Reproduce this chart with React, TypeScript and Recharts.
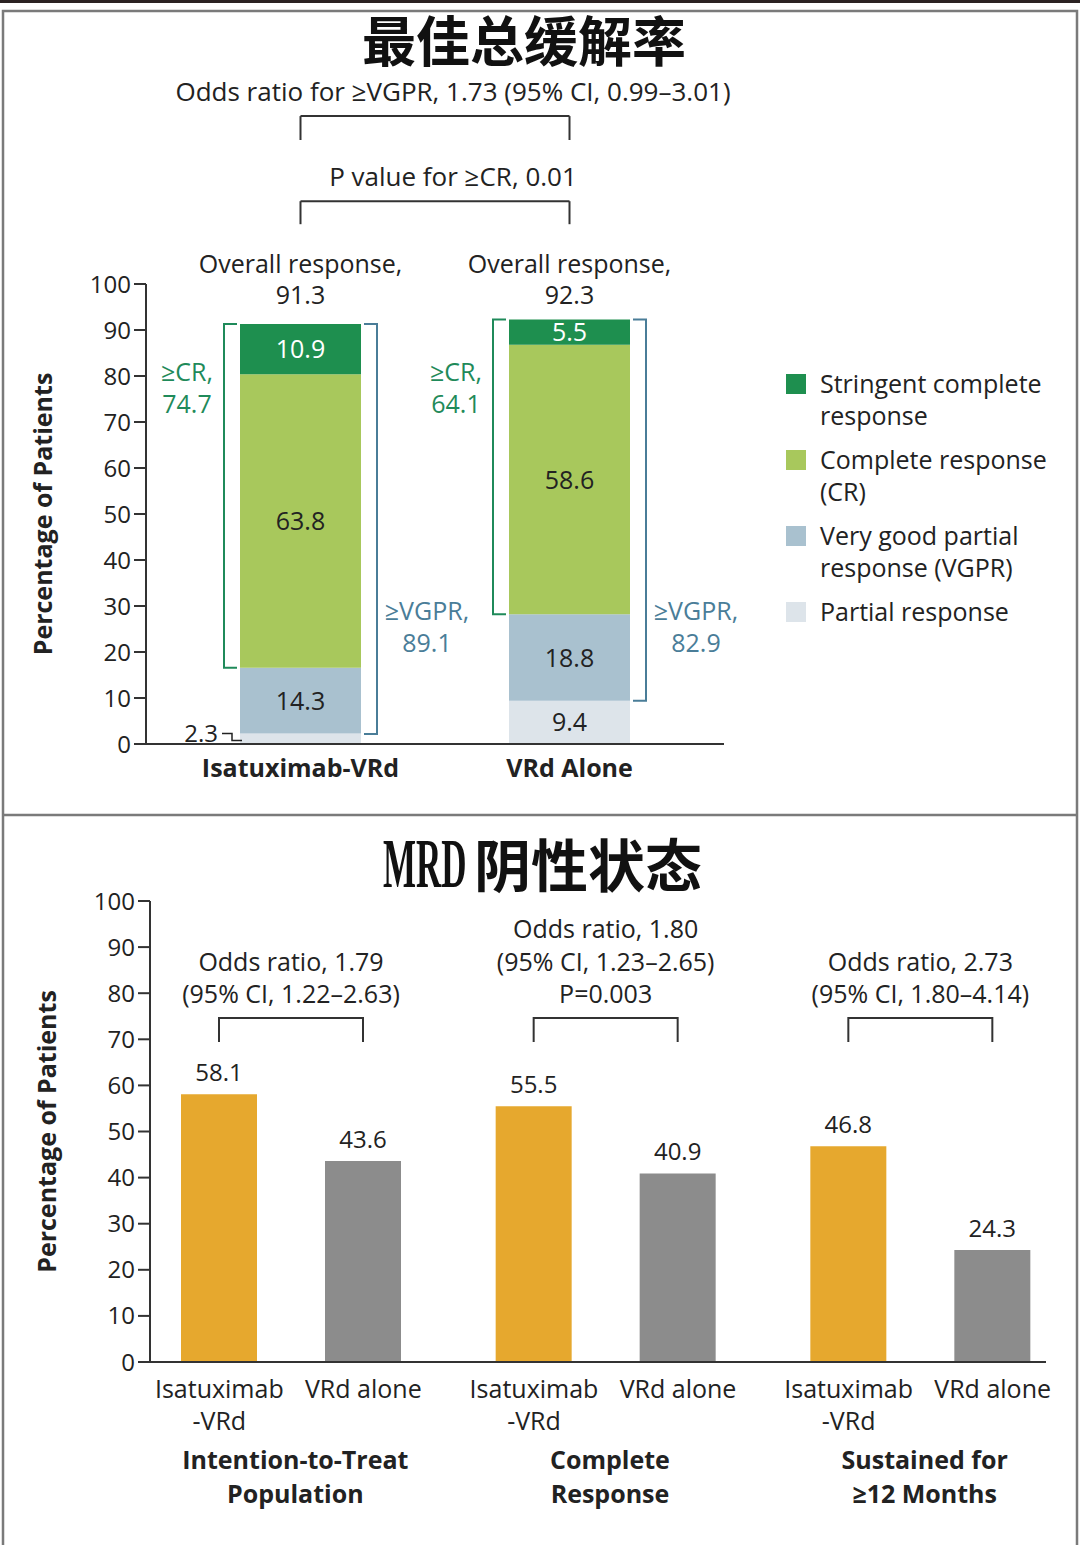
import { BarChart, Bar, XAxis, YAxis, LabelList, Legend, ReferenceLine } from 'recharts'

// best overall response (top panel)
const responseGroups = ['Isatuximab-VRd', 'VRd Alone']
const partialResponse = [2.3, 9.4]
const veryGoodPartial = [14.3, 18.8]
const completeResponse = [63.8, 58.6]
const stringentComplete = [10.9, 5.5]
const overallResponse = [91.3, 92.3]
const atLeastCR = [74.7, 64.1]
const atLeastVGPR = [89.1, 82.9]
const legendOrder = ['scr', 'cr', 'vgpr', 'pr']

// MRD-negative status (bottom panel)
const mrdGroups = [
  ['Intention-to-Treat', 'Population'],
  ['Complete', 'Response'],
  ['Sustained for', '≥12 Months'],
]
const mrdIsatuximab = [58.1, 55.5, 46.8]
const mrdVrdAlone = [43.6, 40.9, 24.3]
const mrdOdds = [
  ['Odds ratio, 1.79', '(95% CI, 1.22–2.63)'],
  ['Odds ratio, 1.80', '(95% CI, 1.23–2.65)', 'P=0.003'],
  ['Odds ratio, 2.73', '(95% CI, 1.80–4.14)'],
]
const armLabels = [['Isatuximab', '-VRd'], ['VRd alone']]
const percentTicks = [0, 10, 20, 30, 40, 50, 60, 70, 80, 90, 100]

const FONT = '"Open Sans", "DejaVu Sans", sans-serif'
const CJK = '"Noto Sans CJK SC", sans-serif'
const INK = '#222'
const AXIS = '#333'
const GREEN = '#1f8a5a'
const BLUE = '#4a7d98'
const colors = {
  scr: '#1e8f4f',
  cr: '#a8c85c',
  vgpr: '#a9c1cf',
  pr: '#dde4ea',
  isa: '#e6a82e',
  vrd: '#8c8c8c',
}
const MRD_BAR = 76
const MRD_GAP = 68

const responseData = responseGroups.map((name, i) => ({
  name,
  pr: partialResponse[i],
  vgpr: veryGoodPartial[i],
  cr: completeResponse[i],
  scr: stringentComplete[i],
}))

const mrdGroupNames = mrdGroups.map((l) => l.join(' '))
const mrdData = mrdGroupNames.map((g, i) => ({ g, isa: mrdIsatuximab[i], vrd: mrdVrdAlone[i] }))

function box(props: any) {
  const vb = props.viewBox && props.viewBox.width !== undefined ? props.viewBox : props
  return { x: +vb.x, y: +vb.y, width: +vb.width, height: +vb.height }
}

function SegmentLabel(props: any) {
  const { x, y, width, height } = box(props)
  const v = props.values[props.index]
  if (v == null) return null
  if (height < 20) {
    return (
      <g>
        <text x={x - 22} y={y + height - 2} textAnchor="end" fontSize={24} fontFamily={FONT} fill={INK}>
          {v}
        </text>
        <path d={`M${x - 18},${y} H${x - 8} V${y + 7} H${x + 2}`} fill="none" stroke={INK} strokeWidth={1.5} />
      </g>
    )
  }
  return (
    <text x={x + width / 2} y={y + height / 2 + 9} textAnchor="middle" fontSize={25} fontFamily={FONT} fill={props.color}>
      {v}
    </text>
  )
}

function ResponseAnnotations(props: any) {
  const { x, y, width, height } = box(props)
  const i = props.index
  const total = overallResponse[i]
  const ppu = height / stringentComplete[i]
  const yAt = (v: number) => y + (total - v) * ppu
  const crBottom = yAt(total - atLeastCR[i])
  const vgprBottom = yAt(total - atLeastVGPR[i])
  const right = x + width
  const cx = x + width / 2
  return (
    <g fontFamily={FONT} fontSize={25}>
      <text x={cx} y={yAt(100) - 11} textAnchor="middle" fill={INK}>Overall response,</text>
      <text x={cx} y={yAt(100) + 20} textAnchor="middle" fill={INK}>{total}</text>
      <path d={`M${x - 3},${y} H${x - 16} V${crBottom} H${x - 3}`} stroke={GREEN} strokeWidth={2} fill="none" />
      <path d={`M${right + 3},${y} H${right + 16} V${vgprBottom} H${right + 3}`} stroke={BLUE} strokeWidth={2} fill="none" />
      <text x={x - 53} y={yAt(79)} textAnchor="middle" fill={GREEN}>≥CR,</text>
      <text x={x - 53} y={yAt(79) + 32} textAnchor="middle" fill={GREEN}>{atLeastCR[i]}</text>
      <text x={right + 66} y={yAt(27)} textAnchor="middle" fill={BLUE}>≥VGPR,</text>
      <text x={right + 66} y={yAt(27) + 32} textAnchor="middle" fill={BLUE}>{atLeastVGPR[i]}</text>
    </g>
  )
}

function ResponseTick(props: any) {
  const { x, y, payload } = props
  return (
    <text x={x} y={y + 33} textAnchor="middle" fontFamily={FONT} fontWeight={700} fontSize={25} fill={INK}>
      {payload.value}
    </text>
  )
}

function yLabel(props: any) {
  const vb = props.viewBox
  const x = vb.x - 34
  const y = vb.y + vb.height / 2
  return (
    <text x={x} y={y} transform={`rotate(-90, ${x}, ${y})`} textAnchor="middle" fontFamily={FONT} fontWeight={700} fontSize={25} fill={INK}>
      Percentage of Patients
    </text>
  )
}

function LegendBox(props: any) {
  const items = [...(props.payload || [])].sort(
    (a: any, b: any) => legendOrder.indexOf(a.dataKey) - legendOrder.indexOf(b.dataKey)
  )
  return (
    <div style={{ fontFamily: FONT, fontSize: 25, lineHeight: '32px', color: INK }}>
      {items.map((it: any) => (
        <div key={it.value} style={{ display: 'flex', marginBottom: 12 }}>
          <div style={{ width: 20, height: 20, background: it.color, marginTop: 7, marginRight: 14, flex: 'none' }} />
          <div style={{ whiteSpace: 'pre-line' }}>{it.value}</div>
        </div>
      ))}
    </div>
  )
}

const headerLevels = [
  [131.3, 136.5],
  [113, 118],
]

function ResponseChart() {
  const [g0, g1] = responseGroups
  return (
    <BarChart width={1080} height={815} data={responseData} margin={{ top: 284, right: 356, bottom: 31, left: 86 }} barSize={121}>
      <XAxis
        dataKey="name"
        padding={{ left: 20, right: 20 }}
        height={40}
        axisLine={{ stroke: AXIS, strokeWidth: 2 }}
        tickLine={false}
        tickSize={0}
        tickMargin={0}
        interval={0}
        tick={<ResponseTick />}
      />
      <YAxis
        domain={[0, 100]}
        ticks={percentTicks}
        interval={0}
        width={60}
        tickSize={12}
        tickMargin={3}
        axisLine={{ stroke: AXIS, strokeWidth: 2 }}
        tickLine={{ stroke: AXIS, strokeWidth: 2 }}
        tick={{ fill: INK, fontSize: 24, fontFamily: FONT }}
        label={{ content: yLabel }}
      />
      <Bar dataKey="pr" stackId="a" fill={colors.pr} name="Partial response" isAnimationActive={false}>
        <LabelList content={<SegmentLabel values={partialResponse} color={INK} />} />
      </Bar>
      <Bar dataKey="vgpr" stackId="a" fill={colors.vgpr} name={'Very good partial\nresponse (VGPR)'} isAnimationActive={false}>
        <LabelList content={<SegmentLabel values={veryGoodPartial} color={INK} />} />
      </Bar>
      <Bar dataKey="cr" stackId="a" fill={colors.cr} name={'Complete response\n(CR)'} isAnimationActive={false}>
        <LabelList content={<SegmentLabel values={completeResponse} color={INK} />} />
      </Bar>
      <Bar dataKey="scr" stackId="a" fill={colors.scr} name={'Stringent complete\nresponse'} isAnimationActive={false}>
        <LabelList content={<SegmentLabel values={stringentComplete} color="#fff" />} />
        <LabelList content={<ResponseAnnotations />} />
      </Bar>
      {headerLevels.map(([low, high]) => [
        <ReferenceLine key={`l${high}`} segment={[{ x: g0, y: low }, { x: g0, y: high }]} ifOverflow="visible" stroke={AXIS} strokeWidth={2} />,
        <ReferenceLine key={`t${high}`} segment={[{ x: g0, y: high }, { x: g1, y: high }]} ifOverflow="visible" stroke={AXIS} strokeWidth={2} />,
        <ReferenceLine key={`r${high}`} segment={[{ x: g1, y: low }, { x: g1, y: high }]} ifOverflow="visible" stroke={AXIS} strokeWidth={2} />,
      ])}
      <Legend
        layout="vertical"
        align="center"
        verticalAlign="middle"
        content={<LegendBox />}
        wrapperStyle={{ left: 786, top: 367, width: 290 }}
      />
    </BarChart>
  )
}

function MrdBracket(props: any) {
  const { x, y, width, height } = box(props)
  const i = props.index
  const ppu = height / mrdIsatuximab[i]
  const base = y + height
  const yAt = (v: number) => base - v * ppu
  const c1 = x + width / 2
  const c2 = c1 + width + MRD_GAP
  const top = yAt(74.6)
  const leg = yAt(69.4)
  const lines = mrdOdds[i]
  const mid = (c1 + c2) / 2
  return (
    <g fontFamily={FONT} fontSize={25} fill={INK}>
      <path d={`M${c1},${leg} V${top} H${c2} V${leg}`} stroke={AXIS} strokeWidth={2} fill="none" />
      {lines.map((t, k) => (
        <text key={t} x={mid} y={top - 15 - (lines.length - 1 - k) * 32.5} textAnchor="middle">
          {t}
        </text>
      ))}
    </g>
  )
}

function MrdTick(props: any) {
  const { x, y, payload } = props
  const i = mrdGroupNames.indexOf(payload.value)
  const half = MRD_BAR / 2 + MRD_GAP / 2
  return (
    <g fontFamily={FONT} fill={INK}>
      {armLabels.map((lines, a) =>
        lines.map((t, k) => (
          <text key={`${a}${k}`} x={x + (a === 0 ? -half : half)} y={y + 36 + k * 32} textAnchor="middle" fontSize={25}>
            {t}
          </text>
        ))
      )}
      {(mrdGroups[i] || []).map((t, k) => (
        <text key={t} x={x + 4} y={y + 107 + k * 34} textAnchor="middle" fontSize={25} fontWeight={700}>
          {t}
        </text>
      ))}
    </g>
  )
}

function MrdChart() {
  return (
    <BarChart width={1080} height={730} data={mrdData} margin={{ top: 86, right: 34, bottom: 33, left: 90 }} barSize={MRD_BAR} barGap={MRD_GAP}>
      <XAxis
        dataKey="g"
        padding={{ left: -16, right: -32 }}
        height={150}
        axisLine={{ stroke: AXIS, strokeWidth: 2 }}
        tickLine={false}
        tickSize={0}
        tickMargin={0}
        interval={0}
        tick={<MrdTick />}
      />
      <YAxis
        domain={[0, 100]}
        ticks={percentTicks}
        interval={0}
        width={60}
        tickSize={12}
        tickMargin={3}
        axisLine={{ stroke: AXIS, strokeWidth: 2 }}
        tickLine={{ stroke: AXIS, strokeWidth: 2 }}
        tick={{ fill: INK, fontSize: 24, fontFamily: FONT }}
        label={{ content: yLabel }}
      />
      <Bar dataKey="isa" fill={colors.isa} isAnimationActive={false}>
        <LabelList dataKey="isa" position="top" offset={13} fill={INK} fontSize={24} fontFamily={FONT} />
        <LabelList content={<MrdBracket />} />
      </Bar>
      <Bar dataKey="vrd" fill={colors.vrd} isAnimationActive={false}>
        <LabelList dataKey="vrd" position="top" offset={13} fill={INK} fontSize={24} fontFamily={FONT} />
      </Bar>
    </BarChart>
  )
}

export default function App() {
  return (
    <div style={{ position: 'absolute', left: 0, top: 0, width: 1080, height: 1545, background: '#fff', overflow: 'hidden' }}>
      <div style={{ position: 'absolute', left: 0, top: 0 }}>
        <ResponseChart />
      </div>
      <div style={{ position: 'absolute', left: 0, top: 815 }}>
        <MrdChart />
      </div>
      <svg width={1080} height={1545} style={{ position: 'absolute', left: 0, top: 0, pointerEvents: 'none' }}>
        <rect x={0} y={0} width={1080} height={3} fill="#2b2222" />
        <path d="M3,1545 V11 H1077 V1545" stroke="#7a7a7a" strokeWidth={2.5} fill="none" />
        <line x1={3} y1={815} x2={1077} y2={815} stroke="#7a7a7a" strokeWidth={2.5} />
        <text x={524} y={62} textAnchor="middle" fontFamily={CJK} fontWeight={700} fontSize={54} fill="#111">
          最佳总缓解率
        </text>
        <text transform="translate(383, 887) scale(0.5, 1)" fontFamily='"Liberation Serif", serif' fontWeight={700} fontSize={70} fill="#111">
          MRD
        </text>
        <text x={474} y={887} fontFamily={CJK} fontWeight={700} fontSize={57} fill="#111">
          阴性状态
        </text>
        <g fontFamily={FONT} fontSize={26} fill={INK} textAnchor="middle">
          <text x={453} y={101}>Odds ratio for ≥VGPR, 1.73 (95% CI, 0.99–3.01)</text>
          <text x={453} y={186}>P value for ≥CR, 0.01</text>
        </g>
      </svg>
    </div>
  )
}
